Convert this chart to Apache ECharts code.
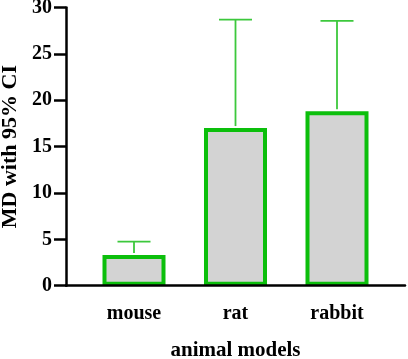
<!DOCTYPE html>
<html>
<head>
<meta charset="utf-8">
<script src="https://cdn.jsdelivr.net/npm/echarts@6/dist/echarts.min.js"></script>
<style>
    html, body { margin: 0; padding: 0; background: #fff; }
    #chart { width: 408px; height: 359px; }
</style>
</head>
<body>
<div id="chart"></div>
<script>
// values
const categories = ['mouse', 'rat', 'rabbit'];
const meanDiff = [3.3, 17.0, 18.8];
const ciUpper = [4.75, 28.7, 28.55];

const font = 'Liberation Serif';
const textStyle = { color: '#000', fontFamily: font, fontWeight: 'bold' };

let myChart = echarts.init(document.getElementById('chart'));

let option = {
    animation: false,
    grid: [
        { left: 83.25, right: 20.25, top: 7.5, bottom: 73.3, outerBoundsMode: 'none', containLabel: false },   // bars
        { left: 66, right: 3, top: 7.5, bottom: 73.3, outerBoundsMode: 'none', containLabel: false }            // long x axis line
    ],
    xAxis: [
        {
            type: 'category',
            gridIndex: 0,
            data: categories,
            axisLine: { show: false },
            axisTick: { alignWithLabel: true, length: 10, lineStyle: { color: '#000', width: 2.5 } },
            axisLabel: Object.assign({ fontSize: 20, margin: 18 }, textStyle),
            name: 'animal models',
            nameLocation: 'middle',
            nameGap: 54,
            nameTextStyle: Object.assign({ fontSize: 21 }, textStyle)
        },
        {
            type: 'value',
            gridIndex: 1,
            min: 0,
            max: 1,
            z: 10,
            axisLine: { show: true, onZero: false, lineStyle: { color: '#000', width: 2.5 } },
            axisTick: { show: false },
            axisLabel: { show: false },
            splitLine: { show: false }
        }
    ],
    yAxis: [
        {
            type: 'value',
            gridIndex: 0,
            min: 0,
            max: 30,
            interval: 5,
            offset: 17.25,
            axisLine: { show: true, lineStyle: { color: '#000', width: 2.5 } },
            axisTick: { show: true, length: 12, lineStyle: { color: '#000', width: 2.5 } },
            axisLabel: Object.assign({ fontSize: 20, margin: 14 }, textStyle),
            splitLine: { show: false },
            name: 'MD with 95% CI',
            nameLocation: 'middle',
            nameGap: 42,
            nameTextStyle: Object.assign({ fontSize: 22 }, textStyle)
        },
        {
            type: 'value',
            gridIndex: 1,
            show: false
        }
    ],
    series: [
        {
            type: 'bar',
            xAxisIndex: 0,
            yAxisIndex: 0,
            barWidth: 63,
            data: meanDiff,
            itemStyle: {
                color: '#d3d3d3',
                borderColor: '#0cbf0c',
                borderWidth: 4
            }
        },
        {
            type: 'custom',
            xAxisIndex: 0,
            yAxisIndex: 0,
            z: 3,
            data: categories.map((c, i) => [i, meanDiff[i], ciUpper[i]]),
            renderItem: function (params, api) {
                let base = api.coord([api.value(0), api.value(1)]);
                let top = api.coord([api.value(0), api.value(2)]);
                let style = { stroke: '#3cc83c', lineWidth: 1.8 };
                return {
                    type: 'group',
                    children: [
                        { type: 'line', shape: { x1: base[0], y1: base[1] - 2, x2: top[0], y2: top[1] }, style: style },
                        { type: 'line', shape: { x1: top[0] - 16.5, y1: top[1], x2: top[0] + 16.5, y2: top[1] }, style: style }
                    ]
                };
            }
        }
    ]
};

myChart.setOption(option);
</script>
</body>
</html>
